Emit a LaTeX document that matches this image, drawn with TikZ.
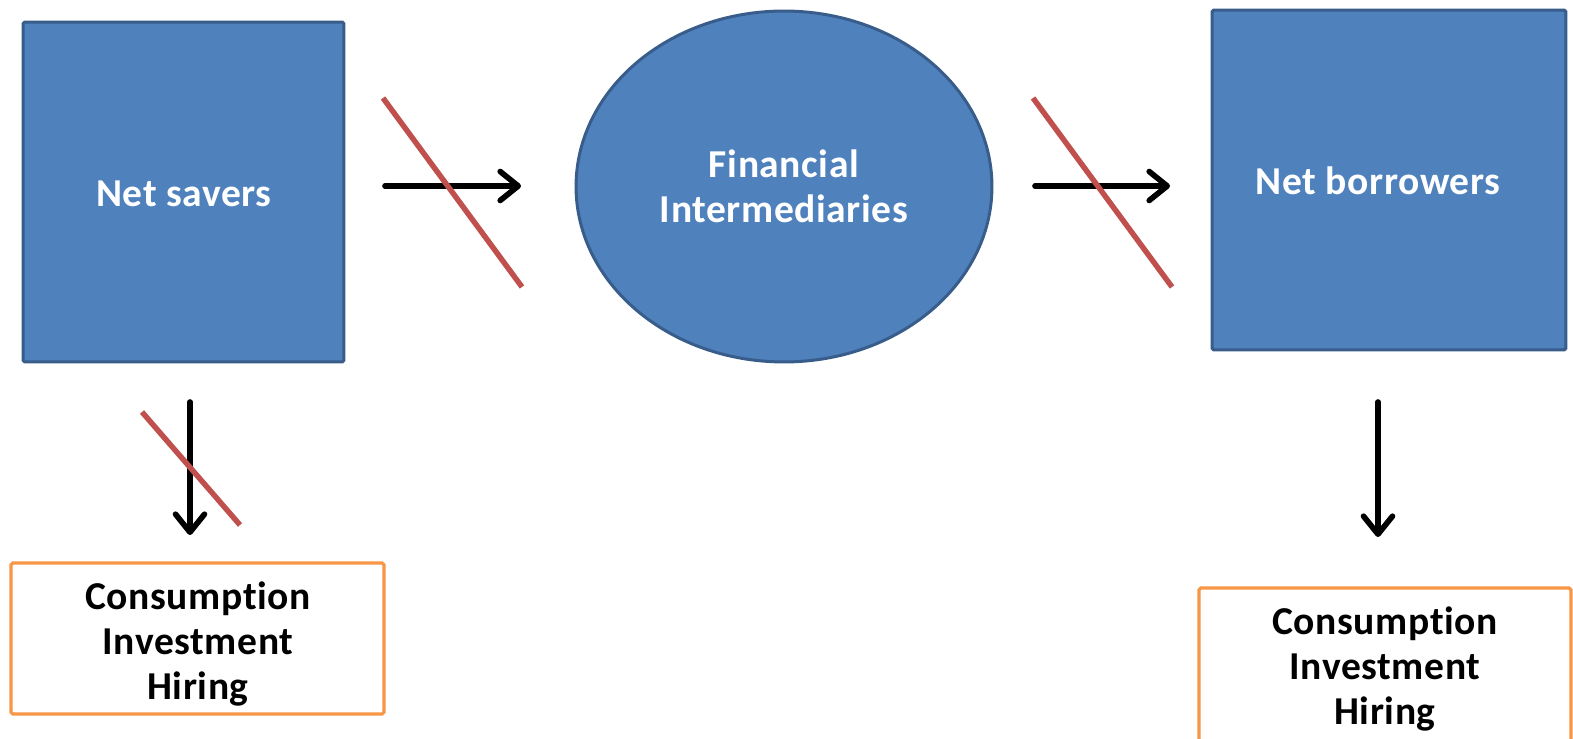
\documentclass[tikz,border=0pt]{standalone}
\usepackage{fontspec}
\setmainfont{Carlito}[Ligatures=NoCommon,LetterSpace=1.5]
\usetikzlibrary{arrows.meta,shapes.geometric}
\definecolor{boxblue}{HTML}{4F81BD}
\definecolor{boxedge}{HTML}{385D8A}
\definecolor{crossred}{HTML}{C0504D}
\definecolor{outorange}{HTML}{F79646}
\begin{document}
\begin{tikzpicture}[x=0.02cm,y=-0.02cm,
  labelfont/.style={font=\bfseries\fontsize{22.5}{25.5}\selectfont,align=center,inner sep=0pt},
  bluebox/.style={draw=boxedge,fill=boxblue,line width=1.7pt,rounded corners=1pt,
    text=white,labelfont},
  outbox/.style={draw=outorange,line width=1.8pt,rounded corners=1pt},
  flow/.style={line width=3.2pt,line cap=round,
    -{Straight Barb[round,length=0.36cm,width=0.58cm]}},
  cross/.style={draw=crossred,line width=3.1pt}]
  \clip (0,0) rectangle (1573,739);
  \fill[white] (0,0) rectangle (1573,739);

  % sectors and intermediary
  \node[bluebox,minimum width=6.42cm,minimum height=6.8cm] (savers) at (183.5,192) {};
  \node[labelfont,text=white] (savtext) at (184,194) {Net savers};
  \node[bluebox,ellipse,minimum width=8.32cm,minimum height=7.02cm] (fin) at (784,186.5)
    {Financial\\Intermediaries};
  \node[bluebox,minimum width=7.08cm,minimum height=6.8cm] (borrowers) at (1389,180) {};
  \node[labelfont,text=white] (bortext) at (1378,181) {Net borrowers};

  % spending outcomes
  \node[outbox,minimum width=7.46cm,minimum height=3.02cm] (useLbox) at (197.5,638.5) {};
  \node[labelfont] (useL) at (198,644) {Consumption\\Investment\\Hiring};
  \node[outbox,minimum width=7.44cm,minimum height=4.24cm] (useRbox) at (1385,694) {};
  \node[labelfont] (useR) at (1385,669) {Consumption\\Investment\\Hiring};

  % arrow end points
  \coordinate (a1s) at (385,186);
  \coordinate (a1e) at (521,186);
  \coordinate (a2s) at (1035,186);
  \coordinate (a2e) at (1170,186);
  \coordinate (a3s) at (190,402);
  \coordinate (a3e) at (190,535);
  \coordinate (a4s) at (1378,402);
  \coordinate (a4e) at (1378,537);

  \draw[flow] (a1s) -- (a1e);
  \draw[flow] (a2s) -- (a2e);
  \draw[flow] (a3s) -- (a3e);
  \draw[flow] (a4s) -- (a4e);

  % strike-through marks
  \coordinate (c1a) at (383,98);
  \coordinate (c1b) at (522,287);
  \coordinate (c2a) at (1033,98);
  \coordinate (c2b) at (1172,287);
  \coordinate (c3a) at (142,412);
  \coordinate (c3b) at (240,525);
  \draw[cross] (c1a) -- (c1b);
  \draw[cross] (c2a) -- (c2b);
  \draw[cross] (c3a) -- (c3b);
\end{tikzpicture}
\end{document}
